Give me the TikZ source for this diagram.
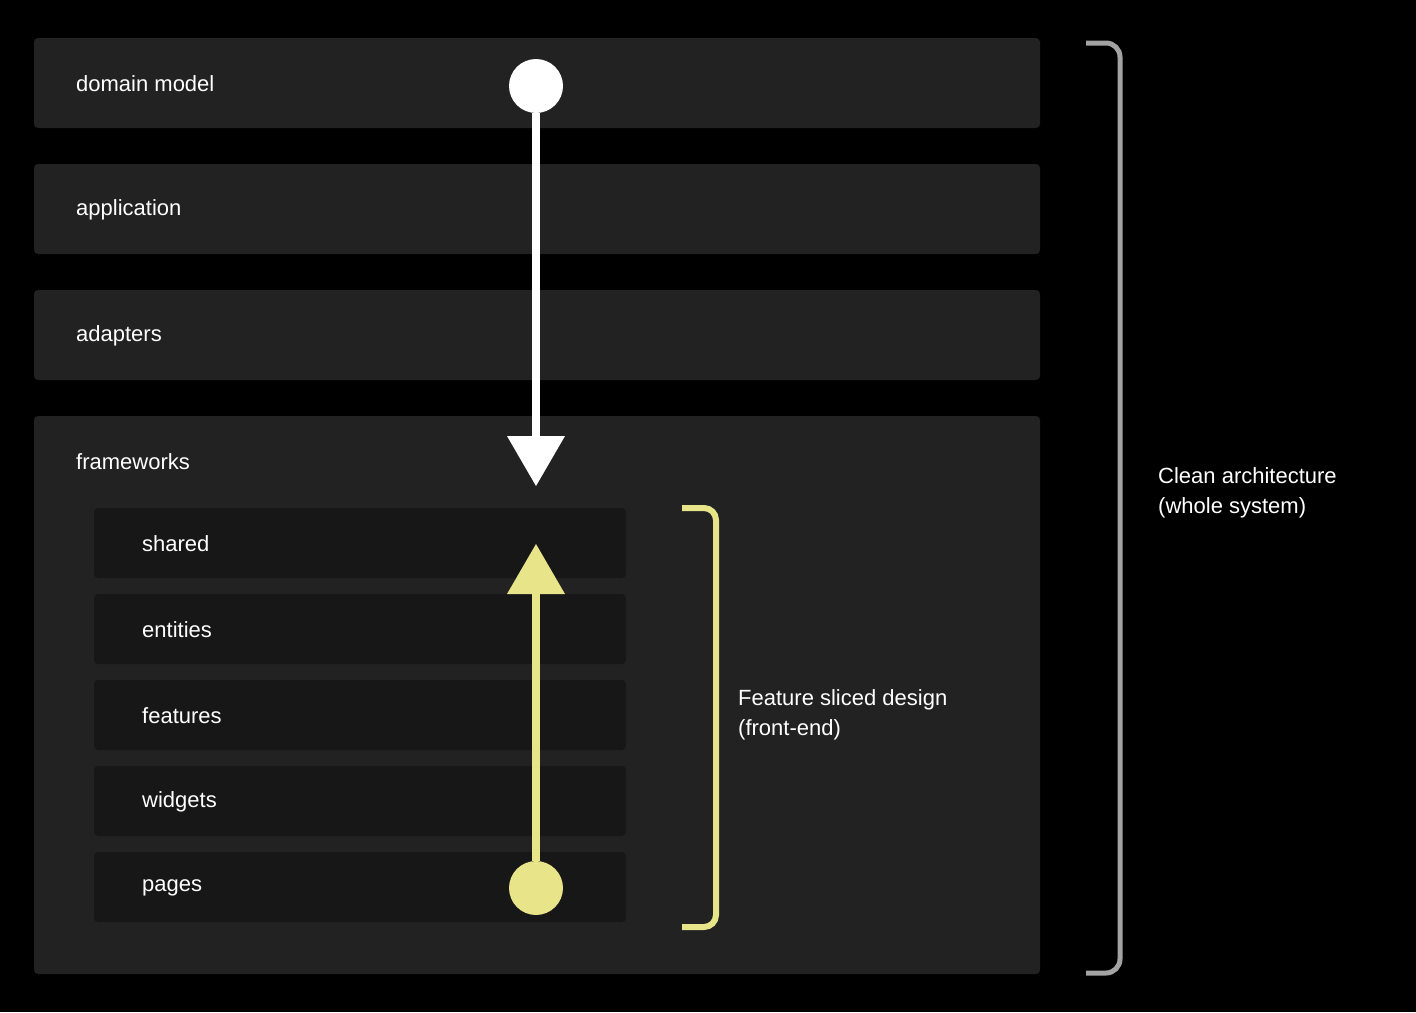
\documentclass[tikz,border=0pt]{standalone}
\usepackage{fontspec}
\setmainfont{Liberation Sans}
\begin{document}
\begin{tikzpicture}[x=1pt,y=-1pt,
  outer/.style={fill=c1,rounded corners=4pt,draw=none},
  inner/.style={fill=c2,rounded corners=4pt,draw=none},
  lbl/.style={text=white,anchor=west,font=\fontsize{22}{30}\selectfont,inner sep=0pt},
  lbl2/.style={text=white,anchor=north west,align=left,font=\fontsize{22}{30}\selectfont,inner sep=0pt}]
\definecolor{c1}{HTML}{222222}
\definecolor{c2}{HTML}{171717}
\definecolor{yel}{HTML}{E8E48A}
\definecolor{gry}{HTML}{A3A3A3}
\fill[black] (0,0) rectangle (1416,1012);
\path[outer] (34,38) rectangle (1040,128);
\path[outer] (34,164) rectangle (1040,254);
\path[outer] (34,290) rectangle (1040,380);
\path[outer] (34,416) rectangle (1040,974);
\node[lbl] (dm) at (76,84) {domain model};
\node[lbl] (app) at (76,210) {application};
\node[lbl] (ad) at (76,336) {adapters};
\node[lbl] (fw) at (76,462) {frameworks};
\foreach \n/\y/\t in {sh/508/shared,en/594/entities,fe/680/features,wi/766/widgets,pa/852/pages}{
  \path[inner] (94,\y) rectangle (626,\y+70);
  \node[lbl] (\n) at (142,\y+36) {\t};
}
% white arrow
\node[circle,fill=white,minimum size=54pt,inner sep=0pt] (wc) at (536,86) {};
\coordinate (wt) at (536,440);
\draw[white,line width=8pt] (wc) -- (wt);
\fill[white] (507,436) -- (565,436) -- (536,486) -- cycle;
% yellow arrow
\node[circle,fill=yel,minimum size=54pt,inner sep=0pt] (yc) at (536,888) {};
\coordinate (yt) at (536,590);
\draw[yel,line width=8pt] (yc) -- (yt);
\fill[yel] (507,594) -- (565,594) -- (536,544) -- cycle;
% brackets
\draw[yel,line width=6pt,rounded corners=12pt] (682,508) -- (716,508) -- (716,927) -- (682,927);
\draw[gry,line width=5pt,rounded corners=14pt] (1086,43) -- (1120,43) -- (1120,973) -- (1086,973);
\node[lbl2] (fsd) at (738,689) {Feature sliced design\\(front-end)};
\node[lbl2] (ca) at (1158,467) {Clean architecture\\(whole system)};
\end{tikzpicture}
\end{document}
